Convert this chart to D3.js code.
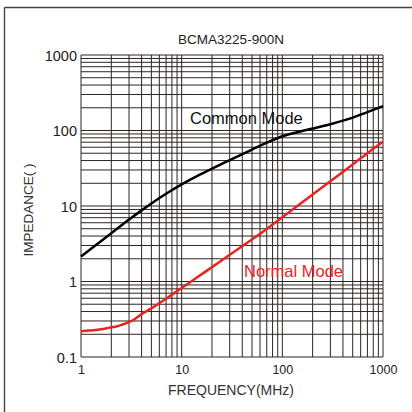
<!DOCTYPE html>
<html>
<head>
<meta charset="utf-8">
<script src="https://cdn.jsdelivr.net/npm/d3@7"></script>
<style>
  html, body { margin: 0; padding: 0; background: #fff; }
  svg { display: block; }
  text { font-family: "Liberation Sans", Arial, sans-serif; }
</style>
</head>
<body>
<script>
// ---- Data ----
const title = "BCMA3225-900N";
const xTickLabels = [1, 10, 100, 1000];
const yTickLabels = [0.1, 1, 10, 100, 1000];
const commonFreq = [1, 2, 3, 4, 5, 7, 10, 15, 20, 30, 50, 70, 100, 150, 200, 300, 500, 700, 1000];
const commonZ    = [2.15, 4.35, 6.6, 8.75, 10.8, 14.5, 19.3, 25.8, 31.2, 40.5, 56, 69, 84, 97, 106, 121, 148, 175, 210];
const normalFreq = [1, 1.2, 1.4, 1.6, 1.8, 2, 2.2, 2.5, 2.8, 3.2, 4, 5, 7, 10, 15, 20, 30, 50, 70, 100, 200, 300, 500, 700, 1000];
const normalZ    = [0.22, 0.224, 0.228, 0.233, 0.24, 0.247, 0.252, 0.265, 0.28, 0.3, 0.37, 0.44, 0.59, 0.82, 1.19, 1.55, 2.26, 3.6, 4.95, 7.1, 14.2, 21.3, 35.5, 50, 71];
const xLabel = "FREQUENCY(MHz)";
const yLabel = "IMPEDANCE( )";
const commonLabel = "Common Mode";
const normalLabel = "Normal Mode";

// ---- Layout ----
const W = 412, H = 412;
const svg = d3.select("body").append("svg").attr("width", W).attr("height", H);

const x = d3.scaleLog().domain([1, 1000]).range([81, 383]);
const y = d3.scaleLog().domain([0.1, 1000]).range([357, 55]);

// frame (left and top)
svg.append("line").attr("x1", 4.5).attr("x2", 4.5).attr("y1", 7.5).attr("y2", H).attr("stroke", "#444").attr("stroke-width", 1.4);
svg.append("line").attr("x1", 4.5).attr("x2", W).attr("y1", 7.5).attr("y2", 7.5).attr("stroke", "#444").attr("stroke-width", 1.4);

// grid
const grid = svg.append("g").attr("stroke", "#2e2424").attr("stroke-width", 1);
grid.selectAll("line.v").data(x.ticks()).join("line")
  .attr("x1", d => x(d)).attr("x2", d => x(d))
  .attr("y1", y.range()[0]).attr("y2", y.range()[1]);
grid.selectAll("line.h").data(y.ticks()).join("line")
  .attr("y1", d => y(d)).attr("y2", d => y(d))
  .attr("x1", x.range()[0]).attr("x2", x.range()[1]);

// axes labels
const fmt = d => String(d);
const xAxis = d3.axisBottom(x).tickValues(xTickLabels).tickSize(0).tickPadding(0).tickFormat(fmt);
const gx = svg.append("g").attr("transform", `translate(0,${y.range()[0]})`).call(xAxis);
gx.select(".domain").remove();
gx.selectAll("text").attr("dy", null).attr("y", 17).attr("fill", "#222").attr("font-size", 12.5)
  .attr("font-family", "Liberation Sans, Arial, sans-serif");

const yAxis = d3.axisLeft(y).tickValues(yTickLabels).tickSize(0).tickPadding(0).tickFormat(fmt);
const gy = svg.append("g").attr("transform", `translate(${x.range()[0]},0)`).call(yAxis);
gy.select(".domain").remove();
gy.selectAll("text").attr("x", -4).attr("dy", "0.36em").attr("fill", "#222").attr("font-size", 14.5)
  .attr("font-family", "Liberation Sans, Arial, sans-serif");

// curves
const line = d3.line().x(d => x(d[0])).y(d => y(d[1])).curve(d3.curveMonotoneX);
svg.append("path").datum(commonFreq.map((f, i) => [f, commonZ[i]]))
  .attr("d", line).attr("fill", "none").attr("stroke", "#000").attr("stroke-width", 2.5);
svg.append("path").datum(normalFreq.map((f, i) => [f, normalZ[i]]))
  .attr("d", line).attr("fill", "none").attr("stroke", "#e8241e").attr("stroke-width", 2.5);

// texts
svg.append("text").attr("x", 231).attr("y", 44).attr("text-anchor", "middle")
  .attr("font-size", 13.5).attr("fill", "#222").text(title);
svg.append("text").attr("x", 231).attr("y", 395).attr("text-anchor", "middle")
  .attr("font-size", 14).attr("fill", "#333").text(xLabel);
svg.append("text").attr("transform", "translate(33,210) rotate(-90)").attr("text-anchor", "middle")
  .attr("font-size", 13.5).attr("fill", "#333").text(yLabel);
svg.append("text").attr("x", 190).attr("y", 124)
  .attr("font-size", 16.5).attr("fill", "#111").text(commonLabel);
svg.append("text").attr("x", 244).attr("y", 277)
  .attr("font-size", 16.5).attr("fill", "#e8241e").text(normalLabel);
</script>
</body>
</html>
